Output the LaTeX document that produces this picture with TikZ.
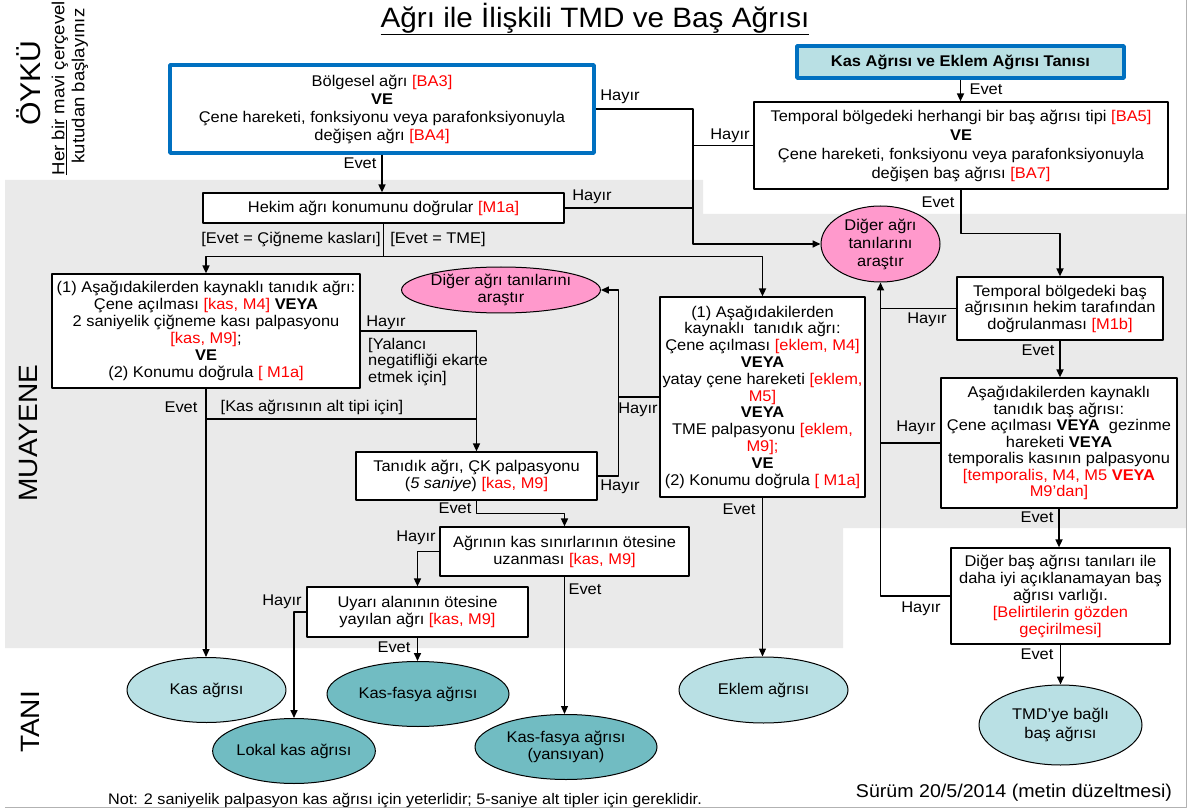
\documentclass[tikz,border=0pt]{standalone}
\usepackage{fontspec}
\setmainfont{Liberation Sans}[FakeStretch=1.06]
\usetikzlibrary{shapes.geometric,arrows.meta}
\definecolor{bgGray}{RGB}{234,234,234}
\definecolor{boxBlue}{RGB}{0,112,192}
\definecolor{lightTeal}{RGB}{185,224,228}
\definecolor{darkTeal}{RGB}{113,188,194}
\definecolor{pinkOval}{RGB}{255,153,204}
\newcommand{\krm}[1]{\textcolor{red}{#1}}
\begin{document}
\begin{tikzpicture}[x=1pt, y=-1pt, line join=round, >={Triangle[length=8pt,width=7pt]},
  font=\fontsize{15.5}{17}\selectfont,
  box/.style={draw, line width=1.2pt, fill=white, align=center, inner sep=0pt},
  bluebox/.style={box, draw=boxBlue, line width=3.5pt},
  oval/.style={ellipse, draw, line width=1pt, align=center, inner sep=0pt},
  arr/.style={->, line width=1.6pt},
  link/.style={line width=1.6pt},
  lbl/.style={inner sep=0pt}]
\useasboundingbox (0,0) rectangle (1189,810);
% background bands
\fill[bgGray] (5,180) -- (703,180) -- (703,214) -- (1186,214) -- (1186,528)
  -- (843,528) -- (843,648) -- (5,648) -- cycle;
\draw[gray!60, line width=1pt] (5,807.5) -- (1186.5,807.5) -- (1186.5,0);

% titles
\node[lbl, font=\fontsize{28}{30}\selectfont] (title) at (595,19) {\underline{Ağrı ile İlişkili TMD ve Baş Ağrısı}};
\node[lbl, rotate=90, font=\fontsize{28.5}{30}\selectfont] (oyku) at (29,83) {ÖYKÜ};
\node[lbl, rotate=90, align=center, font=\fontsize{17.5}{20}\selectfont] (basla) at (70,86)
  {\underline{Her bir} mavi çerçeveli\\kutudan başlayınız};
\node[lbl, rotate=90, font=\fontsize{26.5}{30}\selectfont] (muayene) at (29,433) {MUAYENE};
\node[lbl, rotate=90, font=\fontsize{26.5}{30}\selectfont] (tani) at (30,722) {TANI};

% boxes
\node[bluebox, minimum width=424pt, minimum height=88pt, font=\fontsize{15.5}{18}\selectfont] (bolge) at (382,109)
  {Bölgesel ağrı \krm{[BA3]}\\\textbf{VE}\\Çene hareketi, fonksiyonu veya parafonksiyonuyla\\değişen ağrı \krm{[BA4]}};
\node[bluebox, fill=lightTeal, minimum width=327pt, minimum height=32pt, font=\fontsize{15.5}{17}\selectfont\bfseries] (kastani) at (960.5,62)
  {Kas Ağrısı ve Eklem Ağrısı Tanısı};
\node[box, minimum width=414pt, minimum height=87pt, font=\fontsize{15.5}{19}\selectfont] (temp1) at (961,145.5)
  {Temporal bölgedeki herhangi bir baş ağrısı tipi \krm{[BA5]}\\\textbf{VE}\\Çene hareketi, fonksiyonu veya parafonksiyonuyla\\değişen baş ağrısı \krm{[BA7]}};
\node[box, minimum width=361pt, minimum height=30pt] (hekim) at (383.5,208)
  {Hekim ağrı konumunu doğrular \krm{[M1a]}};
\node[box, minimum width=308pt, minimum height=114pt] (kasbox) at (206,331)
  {(1) Aşağıdakilerden kaynaklı tanıdık ağrı:\\Çene açılması \krm{[kas, M4]} \textbf{VEYA}\\2 saniyelik çiğneme kası palpasyonu\\\krm{[kas, M9]};\\\textbf{VE}\\(2) Konumu doğrula \krm{[ M1a]}};
\node[box, minimum width=205pt, minimum height=200pt, font=\fontsize{15.5}{16.8}\selectfont] (eklembox) at (762.5,397)
  {(1) Aşağıdakilerden\\kaynaklı\ \ tanıdık ağrı:\\Çene açılması \krm{[eklem, M4]}\\\textbf{VEYA}\\yatay çene hareketi \krm{[eklem,}\\\krm{M5]}\\\textbf{VEYA}\\TME palpasyonu \krm{[eklem,}\\\krm{M9];}\\\textbf{VE}\\(2) Konumu doğrula \krm{[ M1a]}};
\node[box, minimum width=241pt, minimum height=48pt] (tanidik) at (476.5,476)
  {Tanıdık ağrı, ÇK palpasyonu\\(\textit{5 saniye}) \krm{[kas, M9]}};
\node[box, minimum width=249pt, minimum height=49pt] (agrinin) at (564.5,551.5)
  {Ağrının kas sınırlarının ötesine\\uzanması \krm{[kas, M9]}};
\node[box, minimum width=221pt, minimum height=50pt] (uyari) at (417.5,612)
  {Uyarı alanının ötesine\\yayılan ağrı \krm{[kas, M9]}};
\node[box, minimum width=206pt, minimum height=63pt, font=\fontsize{15.5}{16.5}\selectfont] (temp2) at (1060,308.5)
  {Temporal bölgedeki baş\\ağrısının hekim tarafından\\doğrulanması \krm{[M1b]}};
\node[box, minimum width=236pt, minimum height=130pt, font=\fontsize{15.5}{16.5}\selectfont] (bas) at (1059,443)
  {Aşağıdakilerden kaynaklı\\tanıdık baş ağrısı:\\Çene açılması \textbf{VEYA}\ \ gezinme\\hareketi \textbf{VEYA}\\temporalis kasının palpasyonu\\\krm{[temporalis, M4, M5 \textbf{VEYA}}\\\krm{M9’dan]}};
\node[box, minimum width=219pt, minimum height=96pt] (digerbas) at (1060.5,596)
  {Diğer baş ağrısı tanıları ile\\daha iyi açıklanamayan baş\\ağrısı varlığı.\\\krm{[Belirtilerin gözden}\\\krm{geçirilmesi]}};

% ovals
\node[oval, fill=pinkOval, minimum width=119pt, minimum height=76pt, font=\fontsize{15.5}{18}\selectfont] (diger1) at (880.5,244)
  {Diğer ağrı\\tanılarını\\araştır};
\node[oval, fill=pinkOval, minimum width=184pt, minimum height=46pt] (diger2) at (501,290)
  {Diğer ağrı tanılarını\\araştır};
\node[oval, fill=lightTeal, minimum width=159pt, minimum height=65pt] (kasagri) at (206.5,690) {Kas ağrısı};
\node[oval, fill=darkTeal, minimum width=146pt, minimum height=65pt] (lokal) at (294,751) {Lokal kas ağrısı};
\node[oval, fill=darkTeal, minimum width=182pt, minimum height=65pt] (kf) at (418,694) {Kas-fasya ağrısı};
\node[oval, fill=darkTeal, minimum width=182pt, minimum height=65pt] (kfy) at (566,747) {Kas-fasya ağrısı\\(yansıyan)};
\node[oval, fill=lightTeal, minimum width=169pt, minimum height=66pt] (eklem) at (763.5,690) {Eklem ağrısı};
\node[oval, fill=lightTeal, minimum width=163pt, minimum height=80pt, font=\fontsize{15.5}{19}\selectfont] (tmd) at (1060.5,725) {TMD’ye bağlı\\baş ağrısı};

% connectors
\coordinate (bus) at (693,244);
\draw[arr] (bolge.south) -- (bolge.south |- hekim.north);
\draw[arr] (bolge.east) -| (bus) -- (diger1.west);
\draw[link] (hekim.east) -- (hekim.east -| bus);
\draw[link] (temp1.west) -- (temp1.west -| bus);
\draw[arr] (kastani.south) -- (kastani.south |- temp1.north);
\draw[arr] (temp1.south) -- ++(0,44) -| (temp2.north);
\draw[link] (hekim.south) -- ++(0,33) coordinate (hs);
\draw[arr] (hs) -| (kasbox.north);
\draw[arr] (hs) -| (eklembox.north);
\draw[arr] (kasbox.east) -| (tanidik.north);
\draw[arr, line width=1.2pt] (kasbox.south) -- (kasbox.south |- kasagri.north);
\coordinate (kb) at (206,419);
\draw[link] (kb) -- (kb -| tanidik.north);
\draw[arr] (tanidik.east) -- ++(21,0) coordinate (tk) |- (diger2.east);
\draw[link] (eklembox.west) -- (eklembox.west -| tk);
\draw[arr] (tanidik.south) -- ++(0,13) -| (agrinin.north);
\draw[arr] (agrinin.west) -| (uyari.north);
\draw[arr, line width=1.1pt] (agrinin.south) -- (agrinin.south |- kfy.north);
\draw[arr] (uyari.west) -| (lokal.north);
\draw[arr] (uyari.south) -- (uyari.south |- kf.north);
\draw[arr, line width=1.1pt] (eklembox.south) -- (eklembox.south |- eklem.north);
\draw[arr] (digerbas.west) -| (diger1.south);
\draw[link] (temp2.west) -- (temp2.west -| diger1.south);
\draw[link] (bas.west) -- (bas.west -| diger1.south);
\draw[arr] (temp2.south) -- (temp2.south |- bas.north);
\draw[arr] (bas.south) -- (bas.south |- digerbas.north);
\draw[arr] (digerbas.south) -- (digerbas.south |- tmd.north);

% labels
\node[lbl] (e1) at (360,163) {Evet};
\node[lbl] (h1) at (620,97) {Hayır};
\node[lbl] (h2) at (730,136) {Hayır};
\node[lbl] (h3) at (592,197) {Hayır};
\node[lbl] (e2) at (986,89) {Evet};
\node[lbl] (e3) at (938,202) {Evet};
\node[lbl] (l1) at (291,239) {[Evet = Çiğneme kasları]};
\node[lbl] (l2) at (438,239) {[Evet = TME]};
\node[lbl] (h4) at (386,323) {Hayır};
\node[lbl, anchor=west, align=left, font=\fontsize{15.5}{16.5}\selectfont] (l3) at (368,362) {[Yalancı\\negatifliği ekarte\\etmek için]};
\node[lbl] (e4) at (181,407) {Evet};
\node[lbl] (l4) at (312,407) {[Kas ağrısının alt tipi için]};
\node[lbl] (h5) at (638,410) {Hayır};
\node[lbl] (h6) at (620,487) {Hayır};
\node[lbl] (e5) at (455,508) {Evet};
\node[lbl] (h7) at (416,538) {Hayır};
\node[lbl] (e6) at (585,589) {Evet};
\node[lbl] (h8) at (282,602) {Hayır};
\node[lbl] (e7) at (394,647) {Evet};
\node[lbl] (e8) at (739,509) {Evet};
\node[lbl] (h9) at (927,320) {Hayır};
\node[lbl] (e9) at (1038,350) {Evet};
\node[lbl] (h10) at (916,428) {Hayır};
\node[lbl] (e10) at (1037,517) {Evet};
\node[lbl] (h11) at (921,609) {Hayır};
\node[lbl] (e11) at (1037,654) {Evet};

% footer
\node[lbl, font=\fontsize{15.3}{17}\selectfont] (not) at (405,800)
  {Not: 2 saniyelik palpasyon kas ağrısı için yeterlidir; 5-saniye alt tipler için gereklidir.};
\node[lbl, font=\fontsize{18.5}{20}\selectfont] (surum) at (1014,793) {Sürüm 20/5/2014 (metin düzeltmesi)};
\end{tikzpicture}
\end{document}
